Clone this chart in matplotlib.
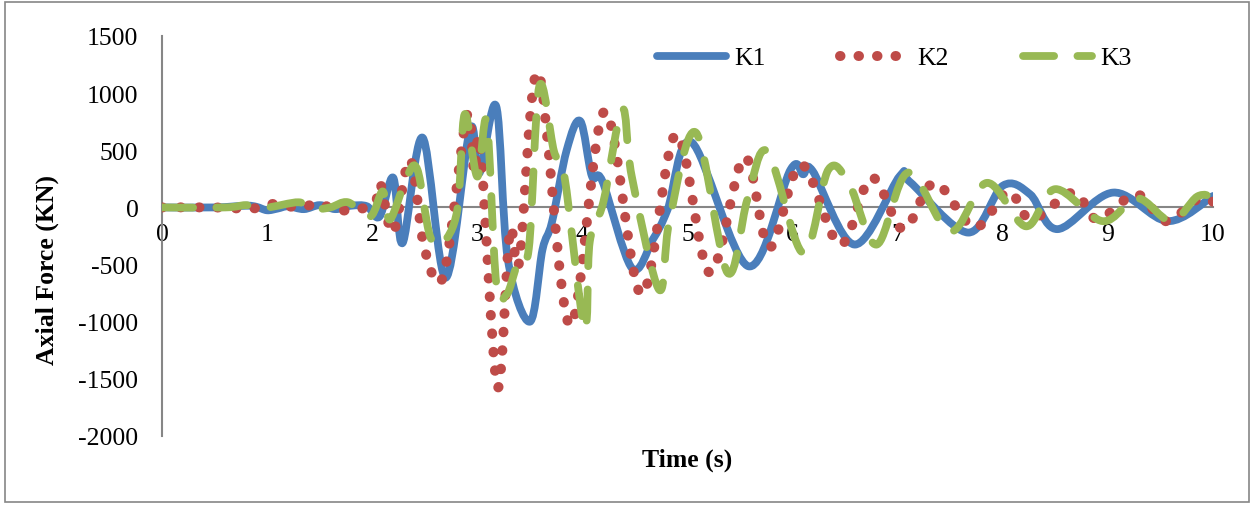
import numpy as np
import matplotlib.pyplot as plt
from matplotlib.path import Path
from matplotlib.patches import PathPatch, Rectangle
from matplotlib.lines import Line2D

plt.rcParams["font.family"] = ["Liberation Serif", "DejaVu Serif"]
plt.rcParams["axes.unicode_minus"] = False

# K1 - solid line (time s, axial force kN)
t_k1 = [0.0, 0.5, 0.8, 0.9, 1.0, 1.1, 1.2, 1.35, 1.5, 1.65, 1.8, 1.95, 2.07, 2.2,
        2.29, 2.48, 2.70, 2.93, 3.02, 3.18, 3.29, 3.50, 3.62, 3.71, 3.85, 3.98,
        4.09, 4.19, 4.47, 4.67, 4.81, 5.04, 5.58, 5.98, 6.10, 6.19, 6.59, 7.02,
        7.12, 7.67, 8.0, 8.26, 8.52, 9.05, 9.57, 10.0]
k1 = [0, 0, 15, 5, -25, -10, 10, -15, 20, -15, 15, 10, -80, 260,
      -310, 610, -615, 685, 300, 885, -450, -1000, -370, -130, 500, 755,
      275, 230, -530, -280, -20, 570, -515, 330, 290, 320, -325, 275,
      220, -220, 190, 115, -190, 130, -120, 100]

# K2 - round dots
t_k2 = [0.0, 0.5, 0.85, 1.05, 1.3, 1.5, 1.65, 1.9, 2.03, 2.08, 2.2, 2.36, 2.5,
        2.68, 2.9, 2.97, 3.03, 3.19, 3.31, 3.40, 3.58, 3.88, 4.21, 4.56, 4.89,
        5.21, 5.54, 5.78, 6.08, 6.45, 6.75, 7.05, 7.35, 7.73, 8.05, 8.27, 8.67,
        8.9, 9.27, 9.55, 9.85, 10.0]
k2 = [0, 0, -10, 30, 0, 35, -25, -10, 45, 200, -220, 420, -370,
      -590, 800, 310, 525, -1570, -210, -470, 1180, -1030, 840, -760, 640,
      -570, 440, -350, 375, -325, 260, -190, 215, -175, 140, -105, 130,
      -105, 115, -120, 70, 50]

# K3 - long dashes
t_k3 = [0.0, 0.6, 0.8, 1.0, 1.3, 1.43, 1.6, 1.77, 1.98, 2.1, 2.17, 2.33, 2.43,
        2.55, 2.67, 2.81, 2.88, 3.0, 3.09, 3.18, 3.28, 3.38, 3.49, 3.59, 3.73,
        3.83, 4.02, 4.07, 4.2, 4.38, 4.47, 4.73, 4.83, 5.08, 5.38, 5.57, 5.76,
        6.1, 6.34, 6.54, 6.8, 7.1, 7.5, 7.85, 8.22, 8.5, 8.95, 9.28, 9.6, 9.85,
        10.0]
k3 = [0, 0, 20, 0, 45, -15, 0, 45, -80, 140, -105, 270, 330,
      -250, -310, -20, 815, 270, 750, -660, -760, -500, -360, 1060, 490,
      265, -1060, -300, 50, 860, 270, -720, -105, 655, -570, 70, 490,
      -400, 330, 200, -325, 305, -210, 215, -165, 160, -120, 80, -120, 95,
      95]

BLUE = "#4A7EBB"
RED = "#BE4B48"
GREEN = "#98B954"
GREY = "#868686"


def smooth_path(x, y):
    """Bezier path through the points, Excel-style smoothed line."""
    pts = np.column_stack([x, y]).astype(float)
    ext = np.vstack([pts[0], pts, pts[-1]])
    verts = [pts[0]]
    codes = [Path.MOVETO]
    for i in range(len(pts) - 1):
        p0, p1, p2, p3 = ext[i], ext[i + 1], ext[i + 2], ext[i + 3]
        verts += [p1 + (p2 - p0) / 6, p2 - (p3 - p1) / 6, p2]
        codes += [Path.CURVE4] * 3
    return Path(verts, codes)


fig = plt.figure(figsize=(12.55, 5.06), dpi=100)
ax = fig.add_axes([162 / 1255, 1 - 437 / 506, 1051 / 1255, 400 / 506])

styles = [
    (t_k1, k1, BLUE, 5.6, "-", "K1"),
    (t_k2, k2, RED, 7.2, (0, (0.05, 1.8)), "K2"),
    (t_k3, k3, GREEN, 5.6, (0, (4, 3)), "K3"),
]
handles = []
for z, (t, v, color, lw, ls, label) in enumerate(styles):
    patch = PathPatch(smooth_path(t, v), fill=False, edgecolor=color, linewidth=lw,
                      linestyle=ls, capstyle="round", joinstyle="round",
                      transform=ax.transData, zorder=3 + z)
    ax.add_patch(patch)
    handles.append(Line2D([], [], color=color, linewidth=lw, linestyle=ls,
                          dash_capstyle="round", solid_capstyle="round", label=label))

ax.set_xlim(0, 10)
ax.set_ylim(-2000, 1500)
ax.set_yticks(np.arange(-2000, 1501, 500))
ax.set_xticks(np.arange(0, 11, 1))

for side in ["top", "right"]:
    ax.spines[side].set_visible(False)
ax.spines["left"].set_color(GREY)
ax.spines["left"].set_linewidth(1.5)
ax.spines["bottom"].set_position(("data", 0))
ax.spines["bottom"].set_color(GREY)
ax.spines["bottom"].set_linewidth(1.5)
ax.spines["bottom"].set_zorder(1)
ax.tick_params(axis="y", length=0, pad=17, labelsize=18.5)
ax.tick_params(axis="x", length=0, pad=11, labelsize=18.5)

fig.text(47 / 1255, 1 - 270 / 506, "Axial Force (KN)", rotation=90, ha="center",
         va="center", fontsize=18.5, fontweight="bold")
fig.text(687 / 1255, 1 - 460 / 506, "Time (s)", ha="center", va="center",
         fontsize=18.5, fontweight="bold")

fig.legend(handles=handles, loc="center left", bbox_to_anchor=(657 / 1255, 1 - 59 / 506),
           ncol=3, frameon=False, fontsize=18.5, handlelength=2.7, handletextpad=0.3,
           columnspacing=2.9, borderpad=0, borderaxespad=0)

fig.patches.append(Rectangle((5 / 1255, 3 / 506), 1244 / 1255, 500 / 506, fill=False,
                             edgecolor=GREY, linewidth=1.2, transform=fig.transFigure))

fig.savefig("out.png", dpi=100)
